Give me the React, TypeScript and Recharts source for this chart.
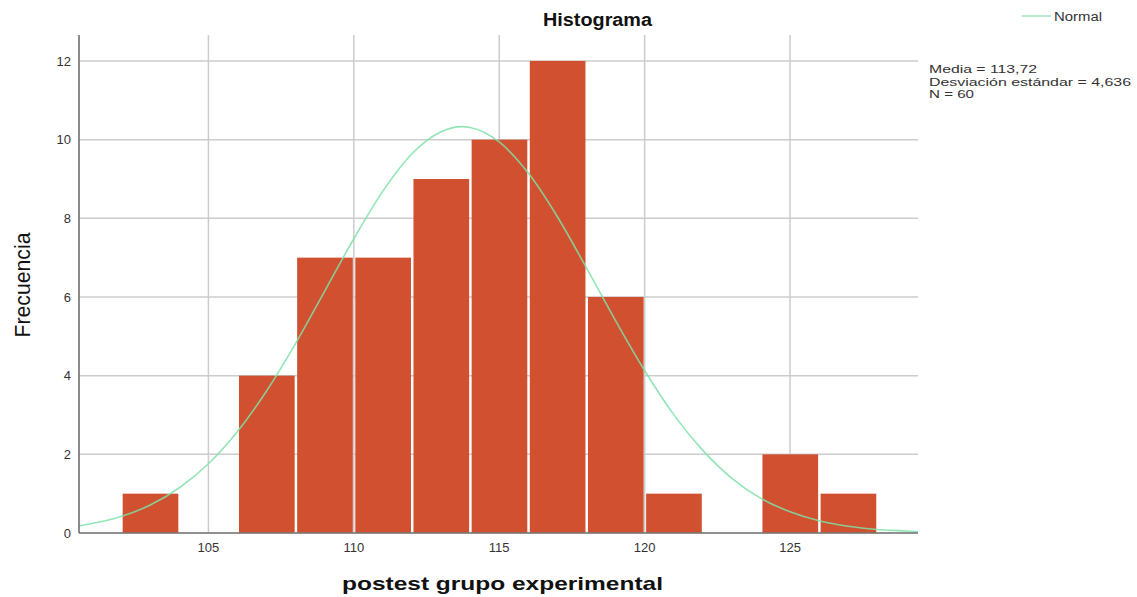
import { ComposedChart, Bar, Line, XAxis, YAxis, CartesianGrid } from "recharts";

// histogram bins (width 2), value = bin midpoint
const binMids = [103, 105, 107, 109, 111, 113, 115, 117, 119, 121, 123, 125, 127];
const binCounts = [1, 0, 4, 7, 7, 9, 10, 12, 6, 1, 0, 2, 1];

// normal curve (scaled to frequency)
const curveX = [
  100.55, 101, 102, 103, 104, 105, 106, 107, 108, 109, 110, 111, 112, 113, 113.72,
  114, 115, 116, 117, 118, 119, 120, 121, 122, 123, 124, 125, 126, 127, 128, 129, 129.4,
];
const curveY = [
  0.18, 0.24, 0.42, 0.71, 1.15, 1.76, 2.58, 3.61, 4.82, 6.15, 7.48, 8.69, 9.64, 10.2, 10.33,
  10.31, 9.94, 9.15, 8.04, 6.74, 5.4, 4.13, 3.01, 2.1, 1.39, 0.88, 0.54, 0.31, 0.17, 0.09, 0.05, 0.03,
];

const xTicks = [105, 110, 115, 120, 125];
const yTicks = [0, 2, 4, 6, 8, 10, 12];

const stats = ["Media = 113,72", "Desviación estándar = 4,636", "N = 60"];
const statsWidths = [108, 202, 45];

const bars = binMids.map((x, i) => ({ x, count: binCounts[i] }));
const curve = curveX.map((x, i) => ({ x, y: curveY[i] }));

const W = 1137;
const H = 597;
const X_DOMAIN: [number, number] = [100.55, 129.4];
const PLOT_LEFT = 79;
const PLOT_RIGHT = 918;
const BIN = 2;
const binPx = (BIN * (PLOT_RIGHT - PLOT_LEFT)) / (X_DOMAIN[1] - X_DOMAIN[0]);

// recharts squeezes bars on a number axis, so draw each one a full bin wide
const BinShape = (props: any) => {
  const { x, y, width, height, fill } = props;
  if (!height || height <= 0) return null;
  const cx = x + width / 2;
  const w = binPx - 2.5;
  return <rect x={cx - w / 2} y={y} width={w} height={height} fill={fill} />;
};

export default function App() {
  return (
    <div style={{ position: "absolute", left: 0, top: 0, width: W, height: H, background: "#fff" }}>
      <ComposedChart
        width={W}
        height={H}
        data={bars}
        margin={{ top: 35, right: W - PLOT_RIGHT, bottom: 34, left: 0 }}
      >
        <CartesianGrid
          stroke="#cccccc"
          strokeWidth={1.5}
          horizontalValues={yTicks}
          verticalValues={xTicks}
        />
        <XAxis
          type="number"
          dataKey="x"
          domain={X_DOMAIN}
          allowDataOverflow
          ticks={xTicks}
          height={30}
          tickLine={false}
          tickMargin={4}
          axisLine={{ stroke: "#777", strokeWidth: 1.5 }}
          tick={{ fill: "#333", fontSize: 13, fontFamily: "Liberation Sans, Arial" }}
        />
        <YAxis
          type="number"
          domain={[0, 12.66]}
          allowDataOverflow
          ticks={yTicks}
          width={PLOT_LEFT}
          tickLine={false}
          axisLine={{ stroke: "#666", strokeWidth: 1.5 }}
          tick={{ fill: "#333", fontSize: 13, fontFamily: "Liberation Sans, Arial" }}
        />
        <Bar dataKey="count" fill="#D0502F" shape={BinShape} isAnimationActive={false} />
        <Line
          data={curve}
          dataKey="y"
          type="monotone"
          stroke="#7FE0A8"
          strokeWidth={1.6}
          strokeOpacity={0.85}
          dot={false}
          isAnimationActive={false}
        />
      </ComposedChart>
      <svg
        width={W}
        height={H}
        style={{ position: "absolute", left: 0, top: 0, pointerEvents: "none" }}
        fontFamily="Liberation Sans, Arial, sans-serif"
      >
        <text x={543} y={26} fontSize={18} fontWeight="bold" fill="#111" textLength={109} lengthAdjust="spacingAndGlyphs">
          Histograma
        </text>
        <line x1={1022} y1={16} x2={1051} y2={16} stroke="#9FE6C2" strokeWidth={1.5} />
        <text x={1054} y={21} fontSize={12} fill="#333" textLength={48} lengthAdjust="spacingAndGlyphs">
          Normal
        </text>
        {stats.map((s, i) => (
          <text
            key={s}
            x={929}
            y={73 + i * 12.5}
            fontSize={11}
            fill="#333"
            textLength={statsWidths[i]}
            lengthAdjust="spacingAndGlyphs"
          >
            {s}
          </text>
        ))}
        <text
          x={0}
          y={0}
          transform="translate(30,285) rotate(-90)"
          textAnchor="middle"
          fontSize={22}
          fill="#111"
          textLength={105}
          lengthAdjust="spacingAndGlyphs"
        >
          Frecuencia
        </text>
        <text x={342} y={590} fontSize={19} fontWeight="bold" fill="#111" textLength={321} lengthAdjust="spacingAndGlyphs">
          postest grupo experimental
        </text>
      </svg>
    </div>
  );
}
